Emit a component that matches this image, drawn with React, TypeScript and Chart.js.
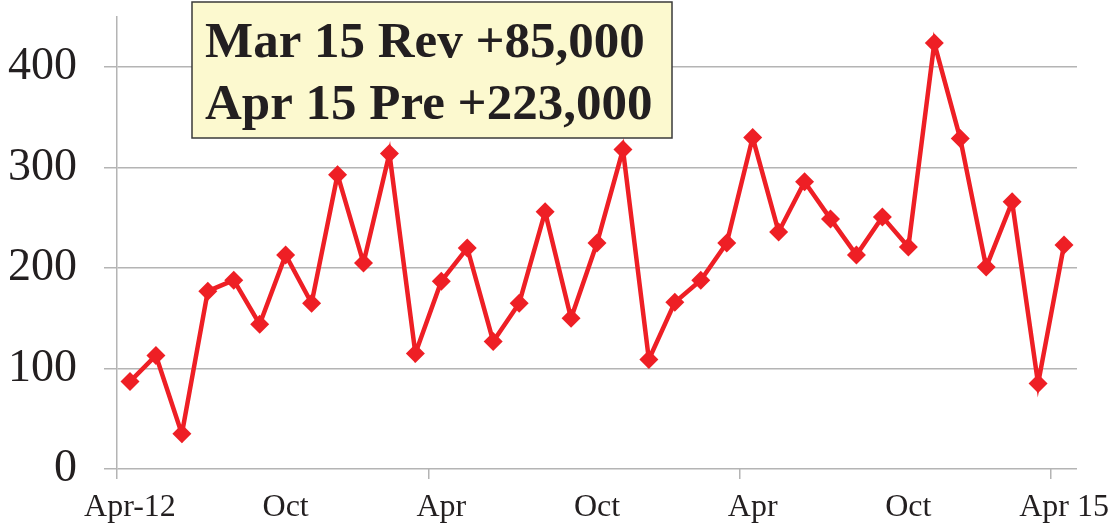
import React, { useEffect, useRef } from "react";
import { Chart, registerables } from "chart.js";

Chart.register(...registerables);

const categories = [
  "Apr-12", "May", "Jun", "Jul", "Aug", "Sep", "Oct", "Nov", "Dec", "Jan", "Feb", "Mar",
  "Apr", "May", "Jun", "Jul", "Aug", "Sep", "Oct", "Nov", "Dec", "Jan", "Feb", "Mar",
  "Apr", "May", "Jun", "Jul", "Aug", "Sep", "Oct", "Nov", "Dec", "Jan", "Feb", "Mar",
  "Apr 15",
];

const payrollChange = [
  87, 113, 35, 177, 188, 144, 213, 165, 293, 205, 314, 115,
  187, 220, 127, 165, 256, 150, 225, 318, 109, 166, 188, 225,
  330, 236, 286, 249, 213, 251, 221, 424, 329, 201, 266, 85,
  223,
];

const yTicks = [0, 100, 200, 300, 400];
const annotationLines = ["Mar 15 Rev +85,000", "Apr 15 Pre +223,000"];

const FONT = '"Liberation Serif", "Times New Roman", serif';
const TEXT = "#231f20";
const GRID = "#b4b4b4";
const RED = "#EE1F25";

const annotationPlugin = {
  id: "annotationBox",
  afterDatasetsDraw(chart: any) {
    const ctx = chart.ctx;
    ctx.save();
    const x = 192, y = 2, w = 480, h = 136;
    ctx.fillStyle = "#fcf9cf";
    ctx.fillRect(x, y, w, h);
    ctx.strokeStyle = "#3a3a3a";
    ctx.lineWidth = 1.5;
    ctx.strokeRect(x, y, w, h);
    ctx.fillStyle = TEXT;
    ctx.font = `bold 51px ${FONT}`;
    ctx.textBaseline = "alphabetic";
    ctx.textAlign = "left";
    annotationLines.forEach((line, i) => {
      ctx.fillText(line, 205, 57 + i * 62);
    });
    ctx.restore();
  },
};

export default function App() {
  const ref = useRef<HTMLCanvasElement | null>(null);

  useEffect(() => {
    document.body.style.margin = "0";
    if (!ref.current) return;
    const chart = new Chart(ref.current, {
      type: "line",
      data: {
        labels: categories,
        datasets: [
          {
            data: payrollChange,
            borderColor: RED,
            backgroundColor: RED,
            borderWidth: 4.5,
            pointStyle: "rectRot",
            pointRadius: 9.5,
            pointBorderWidth: 0,
            pointBackgroundColor: RED,
            tension: 0,
          },
        ],
      },
      options: {
        animation: false,
        responsive: true,
        maintainAspectRatio: false,
        layout: { padding: { top: 17, right: 35, left: 0, bottom: 0 } },
        plugins: {
          legend: { display: false },
          tooltip: { enabled: false },
        },
        scales: {
          x: {
            type: "category",
            offset: true,
            grid: {
              offset: true,
              drawOnChartArea: false,
              drawTicks: true,
              tickLength: 10,
              lineWidth: 1.5,
              color: (c: any) => (c.index % 12 === 0 ? GRID : "rgba(0,0,0,0)"),
            },
            border: { display: false },
            ticks: {
              autoSkip: false,
              maxRotation: 0,
              minRotation: 0,
              padding: 9,
              color: TEXT,
              font: { family: FONT, size: 32 },
              callback: (_v: any, i: number) => (i % 6 === 0 ? categories[i] : ""),
            },
            afterFit: (s: any) => {
              s.height = 55;
              s.paddingLeft = 0;
              s.paddingRight = 0;
            },
          },
          y: {
            min: 0,
            max: 450,
            afterBuildTicks: (s: any) => {
              s.ticks = yTicks.map((v) => ({ value: v }));
            },
            grid: {
              color: GRID,
              lineWidth: 1.5,
              tickLength: 13,
              drawTicks: true,
            },
            border: { display: true, color: GRID, width: 1.5 },
            ticks: {
              padding: 27,
              color: TEXT,
              font: { family: FONT, size: 46 },
            },
            afterFit: (s: any) => {
              s.width = 117;
              s.paddingTop = 0;
              s.paddingBottom = 0;
            },
          },
        },
      },
      plugins: [annotationPlugin],
    });
    return () => chart.destroy();
  }, []);

  return (
    <div style={{ width: 1112, height: 524, position: "relative" }}>
      <canvas ref={ref} />
    </div>
  );
}
